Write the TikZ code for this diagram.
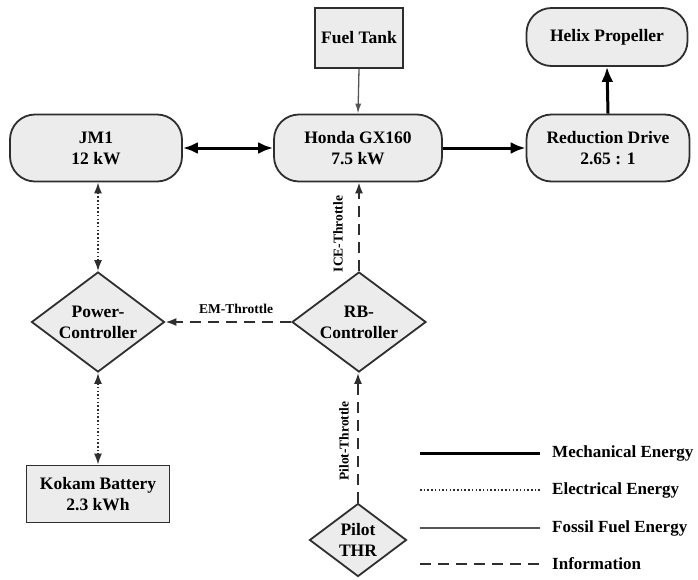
\documentclass[tikz,border=0pt]{standalone}
\usepackage{fontspec}
\setmainfont{Liberation Serif}[BoldFont={Liberation Serif Bold}]
\usetikzlibrary{shapes.geometric,arrows.meta}
\definecolor{boxfill}{HTML}{ECECEC}
\definecolor{boxline}{HTML}{2E2E2E}
\definecolor{fuelline}{HTML}{555555}
\begin{document}
\begin{tikzpicture}[x=1pt,y=-1pt,
  main/.style={font=\rmfamily\fontsize{17.5}{21}\selectfont\bfseries, align=center, text=black},
  rbox/.style={main, draw=boxline, fill=boxfill, line width=1.8pt, rounded corners=25pt, inner sep=0pt},
  sbox/.style={main, draw=boxline, fill=boxfill, line width=1.8pt, inner sep=0pt},
  dbox/.style={main, shape=diamond, aspect=1.33, draw=boxline, fill=boxfill, line width=1.8pt, inner sep=0pt},
  lab/.style={font=\rmfamily\fontsize{13.5}{15}\selectfont\bfseries, text=black, inner sep=0pt},
  legtext/.style={font=\rmfamily\fontsize{17}{20}\selectfont\bfseries, text=black, anchor=west, inner sep=0pt},
  mech/.style={draw=black, line width=3pt},
  elec/.style={draw=boxline, line width=1.6pt, dash pattern=on 1.5pt off 2.2pt},
  fuel/.style={draw=fuelline, line width=1.3pt},
  info/.style={draw=boxline, line width=1.8pt, dash pattern=on 11pt off 7pt},
  bigtip/.tip={Latex[length=15pt,width=12pt]},
  smalltip/.tip={Latex[length=11pt,width=8pt]},
  fueltip/.tip={Latex[length=10pt,width=6pt]}
]
\useasboundingbox (0,0) rectangle (698,579);

% nodes
\node[sbox, minimum width=88pt, minimum height=60pt] (tank) at (359,38) {Fuel Tank};
\node[rbox, minimum width=161pt, minimum height=58pt] (helix) at (607,37) {Helix Propeller};
\node[rbox, minimum width=172pt, minimum height=67pt] (jm1) at (96,148) {JM1\\12 kW};
\node[rbox, minimum width=168pt, minimum height=67pt] (honda) at (358,148) {Honda GX160\\7.5 kW};
\node[rbox, minimum width=163pt, minimum height=67pt] (red) at (608,148) {Reduction Drive\\2.65 : 1};
\node[dbox, minimum width=133pt, minimum height=100pt] (pc) at (98,322) {Power-\\Controller};
\node[dbox, minimum width=134pt, minimum height=100pt] (rb) at (359,322) {RB-\\Controller};
\node[sbox, minimum width=143pt, minimum height=57pt] (bat) at (98,494) {Kokam Battery\\2.3 kWh};
\node[dbox, minimum width=97pt, minimum height=73pt] (pilot) at (358,540) {Pilot\\THR};

% connectors
\draw[mech, {bigtip}-{bigtip}] (jm1.east) -- (honda.west);
\draw[mech, -{bigtip}] (honda.east) -- (red.west);
\draw[mech, -{bigtip}] (red.north) -- (helix.south);
\draw[fuel, -{fueltip}] (tank.south) -- (honda.north);
\draw[elec, {smalltip}-{smalltip}] (jm1.south -| pc.north) -- (pc.north);
\draw[elec, {smalltip}-{smalltip}] (pc.south) -- (bat.north -| pc.south);
\draw[info, -{smalltip}] (rb.north) -- (honda.south -| rb.north);
\draw[info, -{smalltip}] (rb.west) -- (pc.east);
\draw[info, -{smalltip}] (pilot.north) -- (rb.south -| pilot.north);

% labels
\node[lab] (emlab) at (236,309) {EM-Throttle};
\node[lab, rotate=90] (icelab) at (338,234) {ICE-Throttle};
\node[lab, rotate=90] (pilotlab) at (344,441) {Pilot-Throttle};

% legend
\coordinate (m1) at (420,453); \coordinate (m2) at (540,453);
\coordinate (e1) at (420,490); \coordinate (e2) at (540,490);
\coordinate (f1) at (420,528); \coordinate (f2) at (540,528);
\coordinate (i1) at (420,564); \coordinate (i2) at (540,564);
\draw[mech] (m1) -- (m2);
\draw[elec, line width=1.1pt] (e1) -- (e2);
\draw[fuel, line width=1.8pt] (f1) -- (f2);
\draw[info] (i1) -- (i2);
\node[legtext] (lm) at (552,453) {Mechanical Energy};
\node[legtext] (le) at (552,490) {Electrical Energy};
\node[legtext] (lf) at (552,528) {Fossil Fuel Energy};
\node[legtext] (li) at (552,564) {Information};
\end{tikzpicture}
\end{document}
